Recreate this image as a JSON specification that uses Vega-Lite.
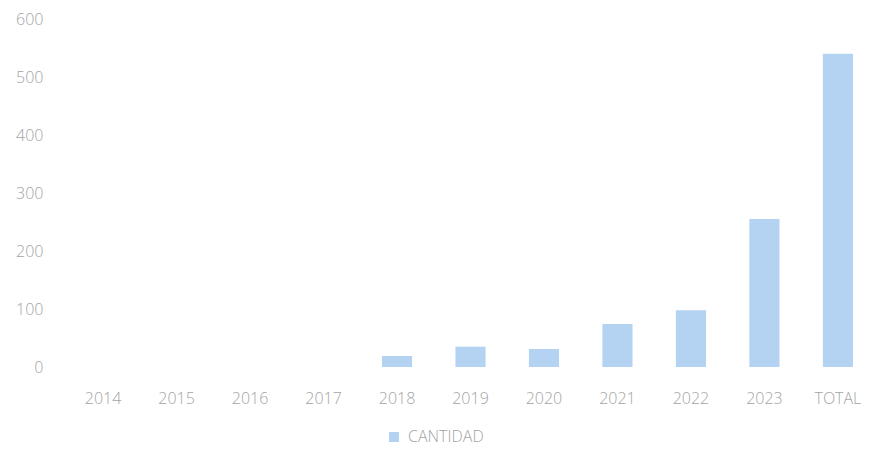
{
  "$schema": "https://vega.github.io/schema/vega-lite/v6.json",
  "width": 809,
  "height": 348,
  "autosize": "none",
  "padding": {"left": 66, "top": 19, "right": 0, "bottom": 83},
  "background": "white",
  "data": {
    "values": [
      {"year": "2014", "cantidad": 0, "serie": "CANTIDAD"},
      {"year": "2015", "cantidad": 0, "serie": "CANTIDAD"},
      {"year": "2016", "cantidad": 0, "serie": "CANTIDAD"},
      {"year": "2017", "cantidad": 0, "serie": "CANTIDAD"},
      {"year": "2018", "cantidad": 19, "serie": "CANTIDAD"},
      {"year": "2019", "cantidad": 35, "serie": "CANTIDAD"},
      {"year": "2020", "cantidad": 31, "serie": "CANTIDAD"},
      {"year": "2021", "cantidad": 74, "serie": "CANTIDAD"},
      {"year": "2022", "cantidad": 98, "serie": "CANTIDAD"},
      {"year": "2023", "cantidad": 255, "serie": "CANTIDAD"},
      {"year": "TOTAL", "cantidad": 540, "serie": "CANTIDAD"}
    ]
  },
  "config": {
    "view": {"stroke": null},
    "font": "Open Sans",
    "axis": {"labelColor": "#a4a4a4", "labelFont": "Open Sans", "labelFontSize": 16, "labelFontWeight": 300, "domain": false, "ticks": false, "grid": false},
    "legend": {"labelColor": "#a4a4a4", "labelFont": "Open Sans", "labelFontSize": 16, "labelFontWeight": 300}
  },
  "mark": {"type": "bar", "color": "#b4d3f2"},
  "encoding": {
    "x": {
      "field": "year", "type": "ordinal", "sort": null,
      "scale": {"paddingInner": 0.59, "paddingOuter": 0.3},
      "axis": {"title": null, "labelAngle": 0, "labelPadding": 23}
    },
    "y": {
      "field": "cantidad", "type": "quantitative",
      "scale": {"domain": [0, 600], "nice": false},
      "axis": {"title": null, "values": [0, 100, 200, 300, 400, 500, 600], "labelPadding": 23}
    },
    "color": {
      "field": "serie", "type": "nominal",
      "scale": {"range": ["#b4d3f2"]},
      "legend": {"title": null, "orient": "none", "legendX": 320, "legendY": 410, "symbolType": "square", "symbolSize": 100, "labelOffset": 6}
    }
  }
}
